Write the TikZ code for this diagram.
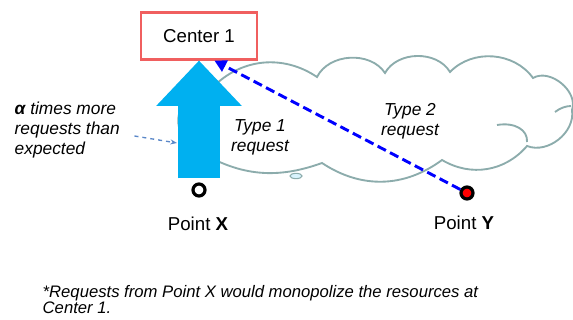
\documentclass[tikz,border=0pt]{standalone}
\usepackage{fontspec}
\setmainfont{Liberation Sans}
\usetikzlibrary{calc}
\usetikzlibrary{shapes,arrows.meta,positioning}
\definecolor{reqblue}{RGB}{0,176,240}
\definecolor{boxred}{RGB}{240,95,95}
\definecolor{cloudgray}{RGB}{140,172,172}
\definecolor{hintblue}{RGB}{90,135,200}
\tikzstyle{centerbox} = [rectangle, draw=boxred, line width=1.8pt, fill=white, minimum width=87pt, minimum height=35pt, font=\fontsize{14}{16}\selectfont]
\tikzstyle{point} = [circle, draw=black, line width=2.4pt, minimum size=9pt, inner sep=0pt]
\tikzstyle{pointlabel} = [font=\fontsize{14}{16}\selectfont]
\tikzstyle{note} = [align=center, font=\fontsize{13}{15}\selectfont\itshape]
\tikzstyle{cloudline} = [draw=cloudgray, line width=1.4pt]

\begin{document}
\begin{tikzpicture}[x=0.75pt, y=-0.75pt]
    \useasboundingbox (0,0) rectangle (573,320);

    % cloud
    \path[cloudline, fill=white] (180,130) to[bend left=60] (212,88) to[bend left=40] (317,77)
        to[bend left=60] (385,73) to[bend left=60] (450,72) to[bend left=50] (533,78)
        to[bend left=70] (572,110) to[bend left=60] (527,146) to[bend left=40] (442,160)
        to[bend left=35] (322,163) to[bend left=25] (200,152) to[bend left=60] cycle;
    \draw[cloudline] (497,125) .. controls (515,122) and (528,130) .. (527,142);
    \draw[cloudline] (555,112) .. controls (560,108) and (566,106) .. (571,106);
    \node(puff)[ellipse, draw=cloudgray, fill=cyan!15, line width=0.8pt, minimum width=9pt, minimum height=4pt, inner sep=0pt] at (296,176) {};

    \node(c1)[centerbox] at (199,36) {Center 1};
    \node(px)[point, fill=white] at (199,190) {};
    \node(py)[point, fill=red] at (467,193) {};
    \node(lx)[pointlabel] at (198,224) {Point \textbf{X}};
    \node(ly)[pointlabel] at (464,223) {Point \textbf{Y}};

    \draw[reqblue, line width=31pt, -{Triangle[width=62pt,length=34pt]}, shorten <=3pt] (px) -- (c1);
    \draw[blue, line width=2.2pt, dash pattern=on 7pt off 3.5pt, -{Triangle[length=9pt,width=9pt]}] (py) -- (c1.-58);

    \node(alpha)[note, align=left, anchor=west] at (10,130) {\textbf{α} times more\\requests than\\expected};
    \coordinate(shaft) at (177,143);
    \draw[hintblue, dashed, line width=1pt, -{Stealth[length=5pt]}] ($(alpha.east)+(10,6)$) -- (shaft);

    \node(t1)[note] at (260,137) {Type 1\\request};
    \node(t2)[note] at (410,121) {Type 2\\request};

    \node(foot)[align=left, anchor=north west, font=\fontsize{12.5}{12}\selectfont\itshape] at (38,281) {*Requests from Point X would monopolize the resources at\\Center 1.};
\end{tikzpicture}
\end{document}
